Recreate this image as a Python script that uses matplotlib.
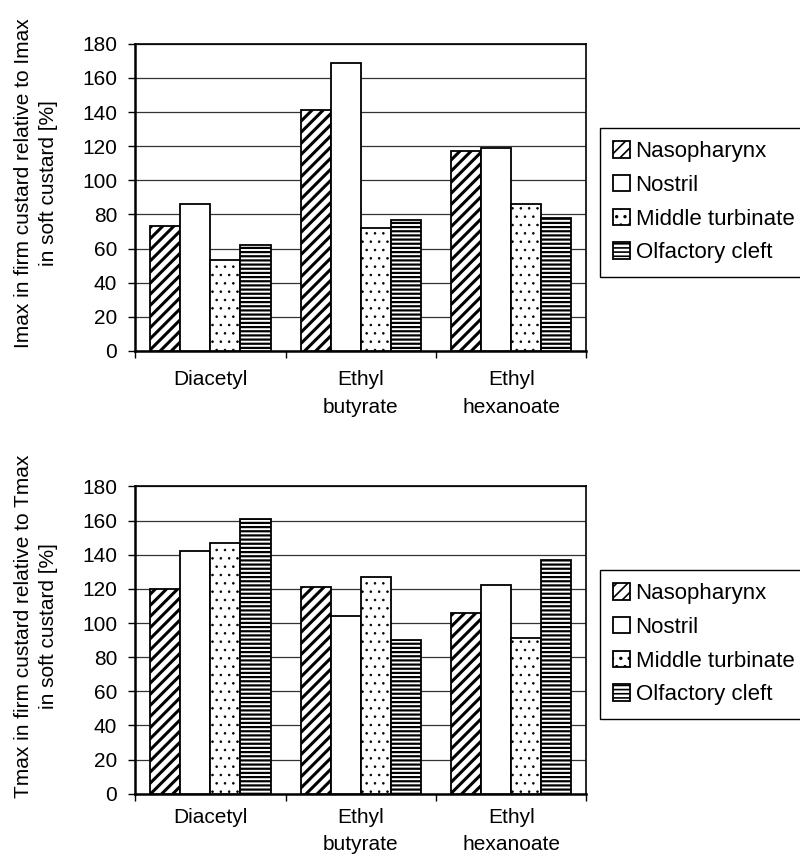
import numpy as np
import matplotlib
matplotlib.use("Agg")
import matplotlib.pyplot as plt
from matplotlib.ticker import FixedLocator

plt.rcParams['font.family'] = ['Liberation Sans', 'DejaVu Sans']
plt.rcParams['hatch.linewidth'] = 2.0
plt.rcParams['hatch.color'] = 'black'

categories = ["Diacetyl", "Ethyl\nbutyrate", "Ethyl\nhexanoate"]
series = ["Nasopharynx", "Nostril", "Middle turbinate", "Olfactory cleft"]
imax_vals = {
    "Nasopharynx": [73, 141, 117],
    "Nostril": [86, 169, 119],
    "Middle turbinate": [53, 72, 86],
    "Olfactory cleft": [62, 77, 78],
}
tmax_vals = {
    "Nasopharynx": [120, 121, 106],
    "Nostril": [142, 104, 122],
    "Middle turbinate": [147, 127, 91],
    "Olfactory cleft": [161, 90, 137],
}
yticks = [0, 20, 40, 60, 80, 100, 120, 140, 160, 180]
ylabels = ["Imax in firm custard relative to Imax\nin soft custard [%]",
           "Tmax in firm custard relative to Tmax\nin soft custard [%]"]

hatches = ["///", "", "..", "----"]
hatch_lw = [2.2, 1.0, 0.6, 1.6]

fig = plt.figure(figsize=(8.0, 8.58), dpi=100)
ax1 = fig.add_axes([0.169, 0.591, 0.564, 0.358])
ax2 = fig.add_axes([0.169, 0.075, 0.564, 0.358])

x = np.arange(len(categories))
w = 0.2
offsets = [-0.3, -0.1, 0.1, 0.3]


def set_hlw(artist, lw):
    try:
        artist.set_hatch_linewidth(lw)
    except Exception:
        pass


for ax, data, ylab, legtop, xpad in [(ax1, imax_vals, ylabels[0], 1 - 128 / 858, 14),
                                      (ax2, tmax_vals, ylabels[1], 1 - 570 / 858, 10)]:
    handles = []
    for s, off, h, hl in zip(series, offsets, hatches, hatch_lw):
        b = ax.bar(x + off, data[s], width=w, color='white', edgecolor='black',
                   linewidth=1.3, hatch=h, zorder=3, label=s)
        for p in b.patches:
            set_hlw(p, hl)
        handles.append(b)
    ax.set_xlim(-0.5, 2.5)
    ax.set_ylim(0, 180)
    ax.set_yticks(yticks)
    ax.yaxis.grid(True, color='#333333', linewidth=0.9, zorder=0)
    ax.set_axisbelow(True)
    ax.set_xticks(x)
    ax.set_xticklabels(categories, fontsize=15, linespacing=1.55, va='top')
    ax.xaxis.set_minor_locator(FixedLocator([-0.5, 0.5, 1.5, 2.5]))
    ax.tick_params(axis='x', which='major', length=0, pad=xpad)
    ax.tick_params(axis='x', which='minor', length=5, width=1, direction='out')
    ax.tick_params(axis='y', length=5, width=1, direction='out', labelsize=15, pad=8)
    for sp in ax.spines.values():
        sp.set_linewidth(1.2)
        sp.set_color('black')
    ax.spines['left'].set_linewidth(1.8)
    ax.spines['bottom'].set_linewidth(1.8)
    ax.set_ylabel(ylab, fontsize=15, linespacing=1.4)
    ax.yaxis.label.set_va('center')
    ax.yaxis.set_label_coords(-0.22, 0.545)
    leg = fig.legend(handles=handles, labels=series, loc='upper left',
                     bbox_to_anchor=(600 / 800, legtop), fontsize=16,
                     frameon=True, fancybox=False, edgecolor='black',
                     framealpha=1, handlelength=0.75, handleheight=0.75,
                     handletextpad=0.25, labelspacing=0.57, borderpad=0.6,
                     borderaxespad=0)
    leg.get_frame().set_linewidth(1.0)
    for hd in leg.legend_handles:
        set_hlw(hd, 1.2)

fig.savefig("out.png", dpi=100, facecolor='white')
